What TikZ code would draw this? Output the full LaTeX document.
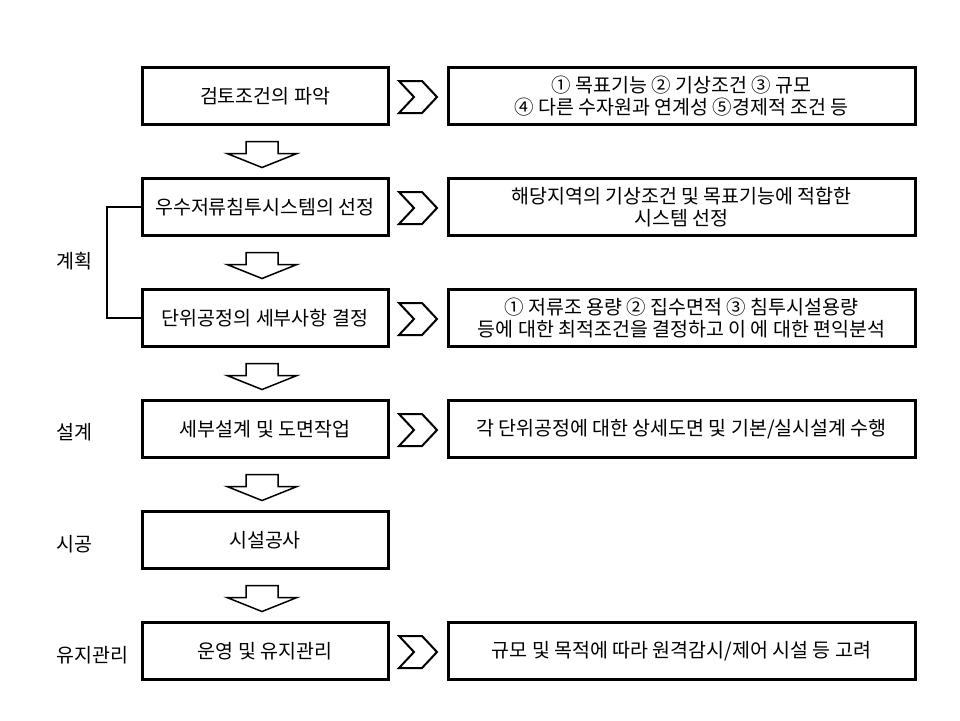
\documentclass[tikz,border=0pt]{standalone}
\usepackage{fontspec}
\setmainfont{Noto Sans CJK KR}
\begin{document}
\begin{tikzpicture}[x=1pt,y=-1pt,
  every node/.style={font=\fontsize{19.5}{21.5}\selectfont, inner sep=0pt},
  lbox/.style={draw, line width=3pt, minimum width=246pt, minimum height=57pt, align=center},
  rbox/.style={draw, line width=3pt, minimum width=467pt, minimum height=57pt, align=center},
  phase/.style={anchor=west},
  bracket/.style={line width=2pt},
  pics/downarrow/.style={code={
    \draw[line width=1.5pt, line join=miter] (-16,-13) -- (16,-13) -- (16,-1) -- (35,-1) -- (0,13) -- (-35,-1) -- (-16,-1) -- cycle;}},
  pics/chevron/.style={code={
    \draw[line width=2pt, line join=miter] (-19,-16) -- (4,-16) -- (19,0) -- (4,16) -- (-19,16) -- (-4,0) -- cycle;}}
]
\useasboundingbox (0,0) rectangle (960,720);

% left boxes
\node[lbox] (l1) at (265,96)  {검토조건의 파악};
\node[lbox] (l2) at (265,207) {우수저류침투시스템의 선정};
\node[lbox] (l3) at (265,318) {단위공정의 세부사항 결정};
\node[lbox] (l4) at (265,429) {세부설계 및 도면작업};
\node[lbox] (l5) at (265,540) {시설공사};
\node[lbox] (l6) at (265,651) {운영 및 유지관리};

% right boxes
\node[rbox] (r1) at (681.5,96)  {① 목표기능 ② 기상조건 ③ 규모\\④ 다른 수자원과 연계성 ⑤경제적 조건 등};
\node[rbox] (r2) at (681.5,207) {해당지역의 기상조건 및 목표기능에 적합한\\시스템 선정};
\node[rbox] (r3) at (681.5,318) {① 저류조 용량 ② 집수면적 ③ 침투시설용량\\등에 대한 최적조건을 결정하고 이 에 대한 편익분석};
\node[rbox] (r4) at (681.5,429) {각 단위공정에 대한 상세도면 및 기본/실시설계 수행};
\node[rbox] (r6) at (681.5,651) {규모 및 목적에 따라 원격감시/제어 시설 등 고려};

% phase labels
\node[phase] (p1) at (56,261) {계획};
\node[phase] (p2) at (56,432) {설계};
\node[phase] (p3) at (56,544) {시공};
\node[phase] (p4) at (56,655) {유지관리};

% bracket
\draw[bracket] (l2.west) -- ++(-34,0) coordinate (bk) |- (l3.west);

% down arrows
\foreach \a/\b in {l1/l2,l2/l3,l3/l4,l4/l5,l5/l6}{
  \path (\a.south) -- (\b.north) coordinate[pos=0.5] (m\a);
  \pic at ([xshift=-3pt,yshift=-3pt]m\a) {downarrow};
}

% chevrons
\foreach \a/\b in {l1/r1,l2/r2,l3/r3,l4/r4,l6/r6}{
  \path (\a.east) -- (\b.west) coordinate[pos=0.5] (c\a);
  \pic at ([yshift=-1pt]c\a) {chevron};
}
\end{tikzpicture}
\end{document}
